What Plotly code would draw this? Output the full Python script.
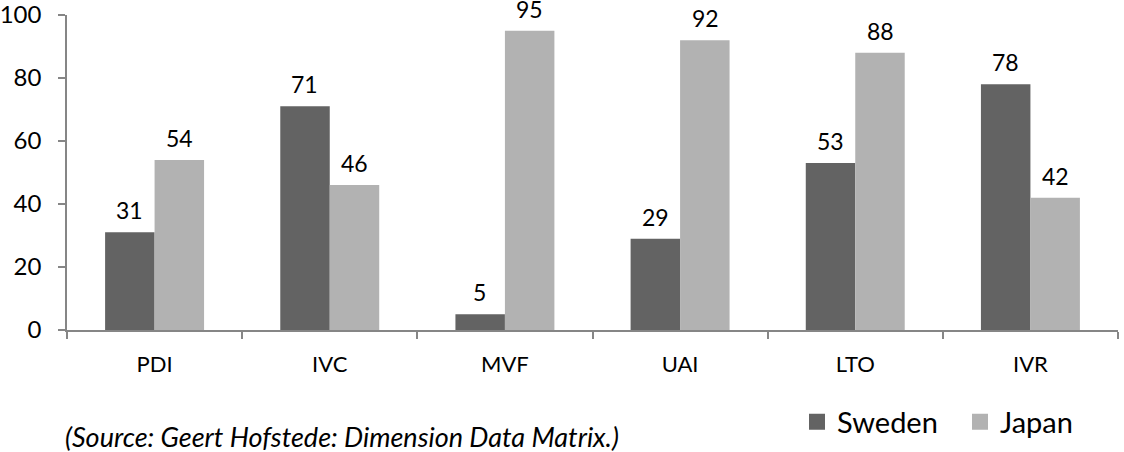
import plotly.graph_objects as go

categories = ["PDI", "IVC", "MVF", "UAI", "LTO", "IVR"]
sweden = [31, 71, 5, 29, 53, 78]
japan = [54, 46, 95, 92, 88, 42]
y_ticks = [0, 20, 40, 60, 80, 100]
series_names = ["Sweden", "Japan"]

FONT = "Lato, 'Open Sans', sans-serif"
DARK = "#636363"
LIGHT = "#b2b2b2"
AXIS = "#868686"
colors = [DARK, LIGHT]

fig = go.Figure()
for name, vals, col in zip(series_names, [sweden, japan], colors):
    fig.add_trace(go.Bar(name=name, x=categories, y=vals, showlegend=False,
                         marker=dict(color=col, line=dict(width=0))))
# legend entries with larger square swatches
for name, col in zip(series_names, colors):
    fig.add_trace(go.Scatter(name=name, x=[None], y=[None], mode="markers",
                             marker=dict(symbol="square", size=16, color=col), showlegend=True))

annotations = []
for shift, vals in zip([-25, 25], [sweden, japan]):
    for c, v in zip(categories, vals):
        annotations.append(dict(x=c, y=v, text=str(v), showarrow=False, xshift=shift, yshift=7,
                                yanchor="bottom", borderpad=0,
                                font=dict(size=23, color="#000", family=FONT)))
annotations.append(dict(x=(64 - 67) / 1051, y=(330 - 436) / 315, xref="paper", yref="paper",
                        xanchor="left", yanchor="middle", borderpad=0,
                        text="<i>(Source: Geert Hofstede: Dimension Data Matrix.)</i>",
                        showarrow=False, font=dict(size=27, color="#000", family=FONT)))

fig.update_layout(
    width=1124, height=452,
    margin=dict(l=67, r=6, t=15, b=122, autoexpand=False),
    paper_bgcolor="white", plot_bgcolor="white",
    barmode="group", bargap=0.435, bargroupgap=0,
    font=dict(family=FONT, size=22, color="#000"),
    showlegend=True,
    legend=dict(orientation="h", x=797 / 1124, y=1 - 422 / 452, xref="container", yref="container",
                xanchor="left", yanchor="middle", entrywidth=118, entrywidthmode="pixels",
                font=dict(size=29, family=FONT), itemwidth=30, traceorder="normal"),
    annotations=annotations,
)
fig.update_xaxes(type="category", showline=True, linecolor=AXIS, linewidth=1.5,
                 ticks="outside", tickson="boundaries", ticklen=7, tickcolor=AXIS, tickwidth=1.5,
                 showgrid=False, ticklabelstandoff=14, tickfont=dict(size=22), automargin=False)
fig.update_yaxes(range=[0, 100], tickvals=y_ticks, showline=True, linecolor=AXIS, linewidth=1.5,
                 ticks="outside", ticklen=7, tickcolor=AXIS, tickwidth=1.5, ticklabeloverflow="allow",
                 showgrid=False, zeroline=False, ticklabelstandoff=12, tickfont=dict(size=24), automargin=False)

fig.write_html("out.html", config={"displayModeBar": False},
               post_script="document.body.style.margin='0';document.body.style.padding='0';"
                           "document.body.style.overflow='hidden';")
